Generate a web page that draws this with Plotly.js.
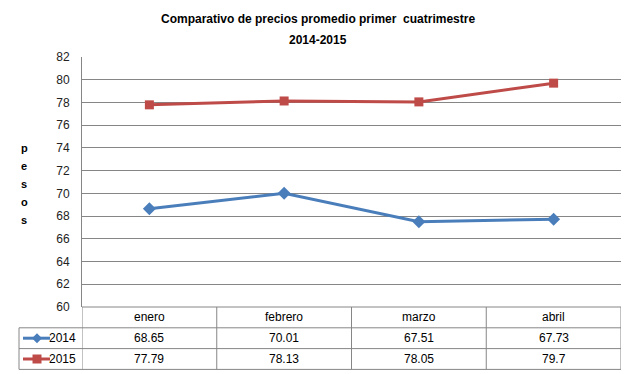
<!DOCTYPE html>
<html>
<head>
<meta charset="utf-8">
<script src="https://cdn.plot.ly/plotly-3.0.1.min.js"></script>
<style>html,body{margin:0;padding:0;background:#fff;}#chart{width:629px;height:374px;}</style>
</head>
<body>
<div id="chart"></div>
<script>
var categories = ['enero', 'febrero', 'marzo', 'abril'];
var seriesNames = ['2014', '2015'];
var values2014 = [68.65, 70.01, 67.51, 67.73];
var values2015 = [77.79, 78.13, 78.05, 79.7];
var titleLines = ['Comparativo de precios promedio primer  cuatrimestre', '2014-2015'];
var yTitle = 'pesos';
var yTicks = [60, 62, 64, 66, 68, 70, 72, 74, 76, 78, 80, 82];

var W = 629, H = 374;
var mL = 82, mR = 8, mT = 57, mB = 67;
var pw = W - mL - mR, ph = H - mT - mB;
function px(X) { return (X - mL) / pw; }
function py(Y) { return (H - mB - Y) / ph; }

var colors = ['#4A7EBB', '#BE4B48'];
var symbols = ['diamond', 'square'];
var seriesValues = [values2014, values2015];
var xIdx = categories.map(function (c, i) { return i; });

var traces = seriesValues.map(function (vals, s) {
  return {
    type: 'scatter', mode: 'lines+markers', name: seriesNames[s],
    x: xIdx, y: vals,
    line: { color: colors[s], width: 3 },
    marker: { symbol: symbols[s], size: s === 0 ? 10 : 9, color: colors[s] },
    cliponaxis: false
  };
});

var gridC = '#868686';
var font = 'Liberation Sans, Arial, sans-serif';
var shapes = [];
var annotations = [];

// Table geometry (pixel rows)
var rowTop = H - mB;           // 307
var rowH = 20.8;
var rowsY = [rowTop, rowTop + rowH, rowTop + 2 * rowH, rowTop + 3 * rowH];
var labelLeft = 19;

// horizontal lines
shapes.push({ type: 'line', xref: 'paper', yref: 'paper', x0: 0, x1: 1, y0: py(rowsY[0]), y1: py(rowsY[0]), line: { color: gridC, width: 1 } });
for (var r = 1; r < rowsY.length; r++) {
  shapes.push({ type: 'line', xref: 'paper', yref: 'paper', x0: px(labelLeft), x1: 1, y0: py(rowsY[r]), y1: py(rowsY[r]), line: { color: gridC, width: 1 } });
}
// vertical lines at category boundaries
for (var i = 0; i <= categories.length; i++) {
  shapes.push({ type: 'line', xref: 'x', yref: 'paper', x0: i - 0.5, x1: i - 0.5, y0: py(rowsY[0]), y1: py(rowsY[3]), line: { color: gridC, width: 1 } });
}
shapes.push({ type: 'line', xref: 'paper', yref: 'paper', x0: px(labelLeft), x1: px(labelLeft), y0: py(rowsY[1]), y1: py(rowsY[3]), line: { color: gridC, width: 1 } });

// header texts
categories.forEach(function (c, i) {
  annotations.push({ xref: 'x', yref: 'paper', x: i, y: py(rowsY[0] + rowH / 2), text: c, showarrow: false, font: { family: font, size: 12, color: '#000' }, xanchor: 'center', yanchor: 'middle' });
});
// value rows + legend keys
seriesValues.forEach(function (vals, s) {
  var yc = rowsY[s + 1] + rowH / 2;
  vals.forEach(function (v, i) {
    annotations.push({ xref: 'x', yref: 'paper', x: i, y: py(yc), text: String(v), showarrow: false, font: { family: font, size: 12, color: '#000' }, xanchor: 'center', yanchor: 'middle' });
  });
  annotations.push({ xref: 'paper', yref: 'paper', x: px(50), y: py(yc), text: seriesNames[s], showarrow: false, font: { family: font, size: 12, color: '#000' }, xanchor: 'left', yanchor: 'middle', borderpad: 0, xshift: -2 });
  shapes.push({ type: 'line', xref: 'paper', yref: 'paper', x0: px(23), x1: px(50), y0: py(yc), y1: py(yc), line: { color: colors[s], width: 3 } });
  if (s === 0) {
    shapes.push({ type: 'path', xref: 'paper', yref: 'paper', xsizemode: 'pixel', ysizemode: 'pixel', xanchor: px(37), yanchor: py(yc), path: 'M -5 0 L 0 5 L 5 0 L 0 -5 Z', fillcolor: colors[s], line: { width: 0 } });
  } else {
    shapes.push({ type: 'rect', xref: 'paper', yref: 'paper', xsizemode: 'pixel', ysizemode: 'pixel', xanchor: px(37), yanchor: py(yc), x0: -4.5, x1: 4.5, y0: -4.5, y1: 4.5, fillcolor: colors[s], line: { width: 0 } });
  }
});

// title lines
var titleYs = [19, 40];
titleLines.forEach(function (t, k) {
  annotations.push({ xref: 'paper', yref: 'paper', x: px(318), y: py(titleYs[k]), text: t, showarrow: false, font: { family: font, size: 12, color: '#000', weight: 'bold' }, xanchor: 'center', yanchor: 'middle' });
});
// vertical stacked y title
yTitle.split('').forEach(function (ch, k) {
  annotations.push({ xref: 'paper', yref: 'paper', x: px(24), y: py(148 + k * 18), text: ch, showarrow: false, font: { family: font, size: 11, color: '#000', weight: 'bold' }, xanchor: 'center', yanchor: 'middle' });
});

var layout = {
  width: W, height: H,
  margin: { l: mL, r: mR, t: mT, b: mB, pad: 0 },
  paper_bgcolor: '#fff', plot_bgcolor: '#fff',
  showlegend: false,
  xaxis: { range: [-0.5, categories.length - 0.5], showticklabels: false, showgrid: false, zeroline: false, showline: false, ticks: '', fixedrange: true },
  yaxis: {
    range: [60, 82], tickvals: yTicks, ticktext: yTicks.map(String),
    showgrid: true, gridcolor: gridC, gridwidth: 1, zeroline: false,
    showline: true, linecolor: gridC, linewidth: 1,
    ticks: 'outside', ticklen: 9, tickcolor: 'rgba(0,0,0,0)',
    tickfont: { family: font, size: 12, color: '#222' }
  },
  shapes: shapes,
  annotations: annotations
};

Plotly.newPlot('chart', traces, layout, { displayModeBar: false, staticPlot: true });
</script>
</body>
</html>
